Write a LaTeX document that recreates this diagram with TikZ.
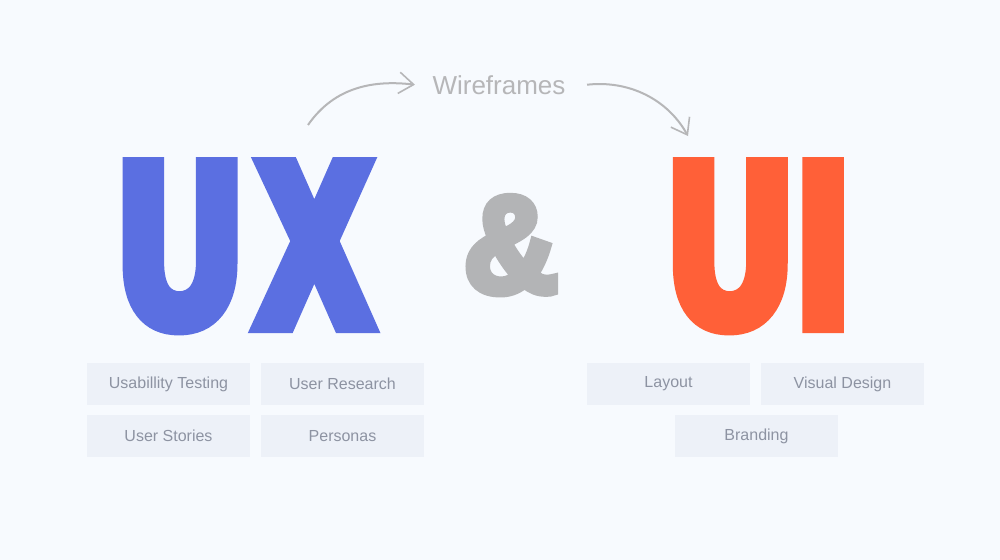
\documentclass[tikz,border=0pt]{standalone}
\usepackage{fontspec}
\usepackage{tikz}
\usetikzlibrary{arrows.meta}
\setmainfont{Liberation Sans}
\newfontfamily\heavyfont{Liberation Sans}[FakeStretch=0.70,FakeBold=8]
\newfontfamily\ampfont{Liberation Sans}[FakeStretch=0.95,FakeBold=6]

\definecolor{bgpale}{HTML}{F7FAFE}
\definecolor{uxblue}{HTML}{5B6FE1}
\definecolor{uiorange}{HTML}{FF6038}
\definecolor{ampgray}{HTML}{B3B4B6}
\definecolor{wiregray}{HTML}{B6B6B8}
\definecolor{tagfill}{HTML}{EDF1F8}
\definecolor{tagtext}{HTML}{8D93A2}

\begin{document}
\begin{tikzpicture}[x=0.75pt,y=0.75pt,yscale=-1,xscale=1,
  tag/.style={fill=tagfill,text=tagtext,minimum width=122.25pt,minimum height=31.5pt,inner sep=0pt,font=\fontsize{12}{14}\selectfont},
  bigword/.style={inner sep=0pt,anchor=base,text depth=0pt,font=\heavyfont\bfseries\fontsize{172}{172}\selectfont},
  flow/.style={draw=wiregray,line width=1.5pt,-{Straight Barb[length=11pt,width=16pt,line width=1.2pt]}}]
%set diagram frame: 1000 x 560
\fill[bgpale] (0,0) rectangle (1000,560);
\useasboundingbox (0,0) rectangle (1000,560);

% Big Words
\node[bigword,text=uxblue] (ux) at (245,324) {U\kern17pt X};
\node[bigword,text=uiorange] (ui) at (759,324) {U\kern9.5pt I};
\node[bigword,text=ampgray,font=\ampfont\bfseries\fontsize{103}{103}\selectfont] (amp) at (511,292) {\&};

% Text Node
\node[text=wiregray,inner sep=0pt,anchor=base,font=\fontsize{19.5}{22}\selectfont] (wire) at (499,94) {Wireframes};

%Curve Lines
\coordinate (uxhook) at (308,125);
\coordinate (uihook) at (688,136);
\draw[flow] (uxhook) .. controls (335,86) and (375,80) .. ([xshift=-13pt]wire.west);
\draw[flow] ([xshift=16pt]wire.east) .. controls (630,80) and (668,100) .. (uihook);

% Tags UX
\node[tag] (usab) at (168.5,384) {Usabillity Testing};
\node[tag] (research) at (342.5,384) {User Research};
\node[tag] (stories) at (168.5,436) {User Stories};
\node[tag] (personas) at (342.5,436) {Personas};
% Tags UI
\node[tag] (layout) at (668.5,384) {Layout};
\node[tag] (visual) at (842.5,384) {Visual Design};
\node[tag] (brand) at (756.5,436) {Branding};

\end{tikzpicture}
\end{document}
